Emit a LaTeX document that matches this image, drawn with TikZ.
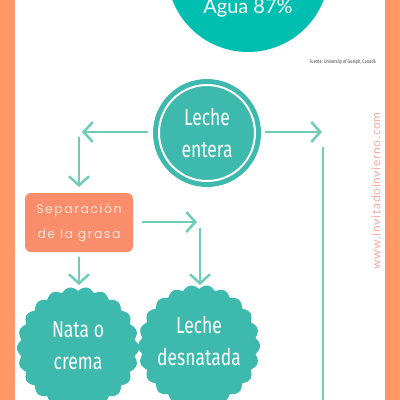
\documentclass[tikz,border=0pt]{standalone}
\usepackage{fontspec}
\setmainfont{Fira Sans}
\newfontfamily\cond[FakeStretch=0.76]{Fira Sans}
\newfontfamily\roundf[LetterSpace=12]{Poppins}
\newfontfamily\agua{Lato}
\newfontfamily\wwwf[LetterSpace=6]{Lato}
\usetikzlibrary{arrows.meta}
\definecolor{border}{RGB}{255,152,102}
\definecolor{bigteal}{RGB}{0,191,176}
\definecolor{teal2}{RGB}{62,185,173}
\definecolor{arrowc}{RGB}{110,204,184}
\definecolor{boxor}{RGB}{250,142,108}
\definecolor{boxtxt}{RGB}{255,226,214}
\definecolor{wwwc}{RGB}{248,168,162}
\tikzset{
  arr/.style={draw=arrowc, line width=2.5pt, -{Straight Barb[length=9pt,width=20pt,line width=2.5pt]}},
  plain/.style={draw=arrowc, line width=2.5pt},
  lbl/.style={text=white, font=\cond\fontsize{23}{32}\selectfont, align=center},
}
\begin{document}
\begin{tikzpicture}[x=1pt,y=-1pt]
\useasboundingbox (0,0) rectangle (400,400);
\clip (0,0) rectangle (400,400);
\fill[white] (0,0) rectangle (400,400);
\fill[border] (0,0) rectangle (15,400);
\fill[border] (385,0) rectangle (400,400);
% big circle
\fill[bigteal] (248,-29) circle (81);
\node[anchor=base, text=white, font=\agua\fontsize{20}{20}\selectfont] (agua) at (248,13) {Agua 87\%};
\node[anchor=east, text=black!75, font=\cond\fontsize{5.2}{6}\selectfont, inner sep=0] (fuente) at (376,62) {Fuente: University of Guelph, Canadá};
% Leche entera
\node[circle, fill=teal2, minimum size=108pt, inner sep=0] (le) at (207,133) {};
\draw[white, line width=2pt] (le.center) circle (48);
\node[lbl] at (207,133) {Leche\\entera};
% separacion box
\node[rounded corners=6pt, fill=boxor, minimum width=108pt, minimum height=59pt, inner sep=0,
      text=boxtxt, align=center, font=\roundf\fontsize{12.5}{25}\selectfont] (sep) at (79,222.5) {Separación\\de la grasa};
% scalloped circles
\fill[teal2] plot[domain=0:360, samples=400] ({78+(57+4*abs(cos(11*\x)))*cos(\x)}, {348+(57+4*abs(cos(11*\x)))*sin(\x)}) -- cycle;
\node[circle, minimum size=120pt, inner sep=0] (nata) at (78,348) {};
\node[lbl] at (78,346) {Nata o\\crema};
\fill[teal2] plot[domain=0:360, samples=400] ({199+(57+4*abs(cos(11*\x)))*cos(\x)}, {346+(57+4*abs(cos(11*\x)))*sin(\x)}) -- cycle;
\node[circle, minimum size=120pt, inner sep=0] (desn) at (199,346) {};
\node[lbl] at (199,341) {Leche\\desnatada};
% connectors
\coordinate (l1) at (148,132);
\coordinate (l2) at (82,132);
\coordinate (l3) at (79,137);
\coordinate (l4) at (79,187);
\coordinate (r1) at (265,132);
\coordinate (r2) at (322,132);
\coordinate (r3) at (323,147);
\coordinate (r4) at (323,400);
\coordinate (s1) at (142,222);
\coordinate (s2) at (197,222);
\coordinate (s3) at (200,228);
\coordinate (s4) at (200,285);
\coordinate (b1) at (79,257);
\coordinate (b2) at (79,285);
\draw[arr] (l1) -- (l2);
\draw[arr] (l3) -- (l4);
\draw[arr] (r1) -- (r2);
\draw[plain] (r3) -- (r4);
\draw[arr] (s1) -- (s2);
\draw[arr] (s3) -- (s4);
\draw[arr] (b1) -- (b2);
% watermark
\node[rotate=90, text=wwwc, font=\wwwf\fontsize{12}{12}\selectfont] (www) at (376,191) {www.invitadoinvierno.com};
\end{tikzpicture}
\end{document}
